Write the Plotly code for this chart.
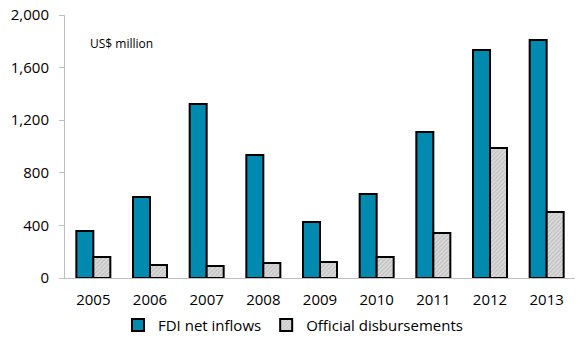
import plotly.graph_objects as go

years = ["2005", "2006", "2007", "2008", "2009", "2010", "2011", "2012", "2013"]
fdi_net_inflows = [357, 616, 1323, 935, 426, 639, 1110, 1734, 1810]
official_disbursements = [160, 99, 91, 114, 122, 160, 342, 989, 502]

font_family = "Open Sans, Noto Sans, sans-serif"

fig = go.Figure()
fig.add_trace(go.Bar(
    x=years, y=fdi_net_inflows, name="FDI net inflows",
    marker=dict(color="#008AB0", line=dict(color="#000000", width=2)),
))
fig.add_trace(go.Bar(
    x=years, y=official_disbursements, name="Official disbursements",
    marker=dict(
        color="#D4D4D4",
        line=dict(color="#000000", width=2),
        pattern=dict(shape="/", fgcolor="#9A9A9A", bgcolor="#D9D9D9", size=3, solidity=0.3),
    ),
))

fig.update_layout(
    width=579, height=345,
    margin=dict(l=65, r=4, t=15, b=67, autoexpand=False),
    paper_bgcolor="white", plot_bgcolor="white",
    barmode="group", bargap=0.4, bargroupgap=0,
    font=dict(family=font_family, size=15, color="#000000"),
    showlegend=True,
    legend=dict(
        orientation="h", x=0.447, xanchor="center",
        yref="container", y=0.105, yanchor="top",
        font=dict(size=15), itemwidth=30, traceorder="normal",
        tracegroupgap=0,
    ),
    annotations=[dict(
        text="US$ million", x=0.045, y=0.89, xref="paper", yref="paper",
        xanchor="left", yanchor="middle", showarrow=False,
        font=dict(size=12, family=font_family),
    )],
)
fig.update_xaxes(
    showline=True, linecolor="#BFBFBF", linewidth=1,
    ticks="outside", ticklen=8, tickcolor="rgba(0,0,0,0)",
    showgrid=False, tickfont=dict(size=15),
)
fig.update_yaxes(
    range=[0, 2000], tickvals=[0, 400, 800, 1200, 1600, 2000], tickformat=",",
    showline=True, linecolor="#BFBFBF", linewidth=1,
    ticks="outside", ticklen=5, tickcolor="#BFBFBF", ticklabelstandoff=7,
    showgrid=False, zeroline=False, tickfont=dict(size=15),
)

fig.write_html("out.html")
